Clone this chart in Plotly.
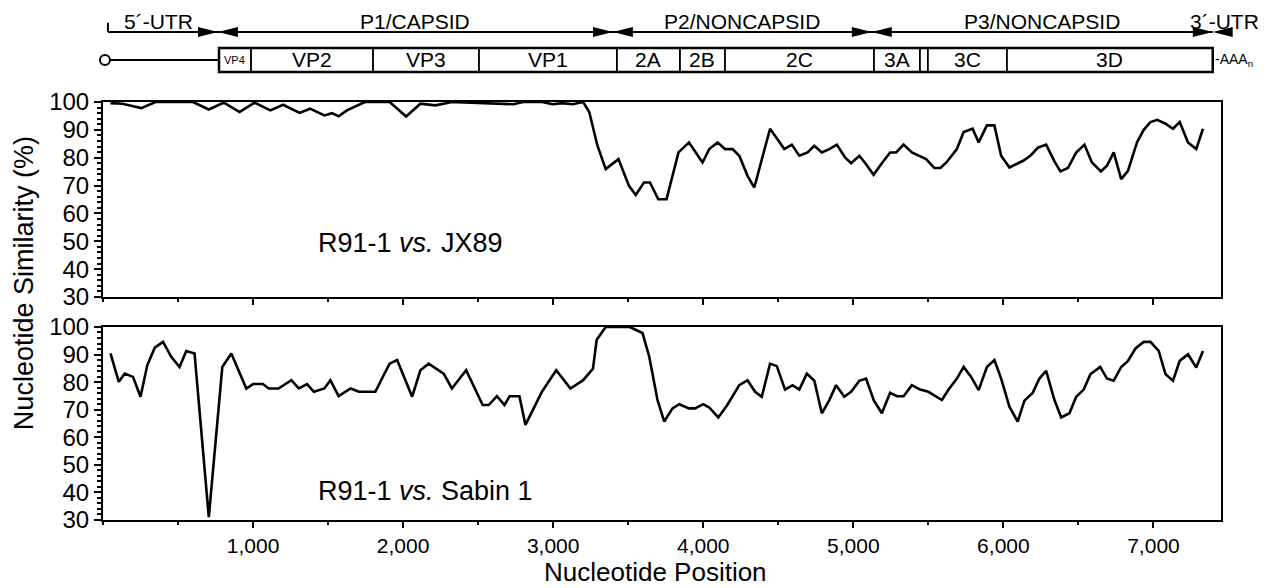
import plotly.graph_objects as go

# sliding-window similarity values
pos_jx89 = [50, 130, 255, 350, 600, 705, 805, 910, 1010, 1115, 1200, 1310, 1380, 1475, 1525,
            1570, 1625, 1745, 1910, 2020, 2115, 2215, 2325, 2540, 2625, 2735, 2800, 2925, 2995,
            3060, 3130, 3200, 3240, 3295, 3350, 3435, 3505, 3550, 3605, 3645, 3700, 3755, 3835,
            3905, 3995, 4040, 4095, 4145, 4195, 4240, 4295, 4340, 4445, 4540, 4590, 4640, 4695,
            4740, 4790, 4840, 4890, 4945, 4985, 5040, 5080, 5135, 5190, 5245, 5285, 5335, 5390,
            5485, 5540, 5580, 5620, 5690, 5735, 5795, 5835, 5890, 5940, 5985, 6040, 6080, 6135,
            6185, 6230, 6285, 6340, 6380, 6430, 6485, 6540, 6590, 6650, 6690, 6735, 6785, 6830,
            6890, 6935, 6980, 7025, 7080, 7130, 7175, 7230, 7285, 7330]
sim_jx89 = [99.6, 99.4, 97.8, 100, 100, 97.3, 99.8, 96.4, 99.8, 97.0, 99.0, 96.1, 97.6, 95.2, 96.0,
            94.9, 97.0, 100, 100, 94.8, 99.4, 98.8, 100, 99.6, 99.2, 99.2, 100, 100, 99.2,
            99.6, 99.2, 100, 96.4, 84.3, 75.9, 79.5, 69.9, 66.6, 71.1, 71.1, 65.1, 65.1, 81.9,
            85.5, 78.3, 83.1, 85.5, 83.1, 83.1, 80.7, 73.5, 69.3, 90.4, 83.1, 84.7, 80.7, 81.9,
            84.3, 81.9, 83.1, 84.7, 80.1, 78.0, 80.7, 78.0, 73.9, 78.0, 81.9, 81.9, 84.7, 81.9,
            79.5, 76.3, 76.3, 78.3, 83.1, 89.2, 90.4, 85.5, 91.6, 91.6, 80.7, 76.5, 77.5, 79.0,
            81.0, 83.6, 84.7, 78.7, 75.1, 76.3, 81.9, 84.7, 78.3, 75.1, 77.1, 81.9, 72.3, 75.3,
            85.5, 90.0, 92.8, 93.6, 92.2, 90.4, 92.8, 85.5, 83.1, 90.4]

pos_sabin = [50, 105, 145, 200, 250, 295, 345, 400, 455, 510, 555, 610, 705, 795, 855, 955, 1000,
             1065, 1105, 1170, 1255, 1305, 1360, 1405, 1475, 1515, 1570, 1650, 1705, 1815, 1870,
             1910, 1960, 2060, 2115, 2170, 2270, 2325, 2420, 2475, 2530, 2570, 2625, 2675, 2710,
             2775, 2815, 2925, 3020, 3115, 3200, 3265, 3290, 3350, 3510, 3595, 3640, 3695, 3740,
             3795, 3840, 3905, 3945, 4000, 4040, 4100, 4160, 4240, 4295, 4345, 4390, 4445, 4490,
             4545, 4595, 4640, 4690, 4740, 4790, 4840, 4885, 4940, 4985, 5040, 5085, 5135, 5190,
             5245, 5290, 5335, 5390, 5445, 5500, 5590, 5635, 5690, 5735, 5785, 5835, 5890, 5940,
             5985, 6040, 6095, 6140, 6195, 6240, 6285, 6340, 6385, 6440, 6485, 6535, 6580, 6645,
             6690, 6735, 6785, 6830, 6880, 6935, 6980, 7035, 7080, 7130, 7175, 7230, 7285, 7330]
sim_sabin = [90.4, 80.1, 83.1, 81.9, 74.7, 86.1, 92.5, 94.6, 89.2, 85.5, 91.3, 90.4, 31.0, 85.5,
             90.4, 77.7, 79.3, 79.3, 77.7, 77.7, 80.7, 77.7, 79.3, 76.5, 77.7, 80.7, 74.9, 77.7,
             76.5, 76.5, 82.5, 86.7, 88.0, 74.7, 84.3, 86.7, 83.1, 77.7, 84.3, 77.7, 71.7, 71.7,
             74.9, 71.7, 74.9, 74.9, 64.5, 76.5, 84.3, 77.7, 80.7, 84.9, 95.4, 100, 100, 97.8,
             89.2, 73.5, 65.7, 70.5, 72.0, 70.5, 70.5, 72.0, 70.8, 67.2, 71.7, 78.9, 80.7, 76.5,
             74.7, 86.7, 85.8, 77.3, 78.9, 77.3, 83.1, 80.5, 68.7, 73.5, 78.9, 74.7, 76.5, 80.5,
             81.3, 73.5, 68.7, 76.1, 74.9, 74.9, 78.9, 77.3, 76.5, 73.5, 77.3, 81.3, 85.5, 81.9,
             77.1, 85.5, 88.0, 81.3, 71.1, 65.7, 73.3, 76.1, 81.3, 84.1, 73.5, 67.2, 68.7, 74.7,
             77.3, 82.9, 85.5, 81.3, 80.5, 85.5, 87.7, 92.2, 94.6, 94.6, 91.3, 82.9, 80.5, 87.7,
             90.1, 85.3, 91.3]

# genome map (nucleotide coordinates)
genes = ["VP4", "VP2", "VP3", "VP1", "2A", "2B", "2C", "3A", "", "3C", "3D"]
gene_start = [773, 986, 1799, 2505, 3424, 3844, 4144, 5137, 5443, 5496, 6023]
gene_end = [986, 1799, 2505, 3424, 3844, 4144, 5137, 5443, 5496, 6023, 7395]
regions = ["P1/CAPSID", "P2/NONCAPSID", "P3/NONCAPSID"]
region_bounds = [766, 3398, 5123, 7395]
utr5_start = 33
utr5_label_x = 373
utr3_label_x = 7475
cap_x = 13
XMAX = 7450

FONT = "Liberation Sans, Arial, sans-serif"
# the page body adds an 8px offset, so the figure is drawn 8px smaller
Y_ARROW = 0.9531
Y_BAR0, Y_BAR1 = 0.875, 0.9219
Y_RNA = 0.8984
Y_LABEL = 0.9746
HEAD = 133      # arrowhead length in nt
HH = 0.0098     # arrowhead half height (paper)


def txt(size):
    return dict(family=FONT, size=size, color="black")


fig = go.Figure()
fig.add_trace(go.Scatter(x=pos_jx89, y=sim_jx89, mode="lines", xaxis="x", yaxis="y",
                         line=dict(color="black", width=2.6), showlegend=False))
fig.add_trace(go.Scatter(x=pos_sabin, y=sim_sabin, mode="lines", xaxis="x2", yaxis="y2",
                         line=dict(color="black", width=2.6), showlegend=False))

shapes = []
# RNA line + 5' circle (paper refs so nothing is clipped at the axis edge)
shapes.append(dict(type="line", xref="paper", yref="paper", x0=cap_x / XMAX,
                   x1=gene_start[0] / XMAX, y0=Y_RNA, y1=Y_RNA, line=dict(color="black", width=2)))
shapes.append(dict(type="circle", xref="paper", yref="paper", xsizemode="pixel", ysizemode="pixel",
                   xanchor=cap_x / XMAX, yanchor=Y_RNA, x0=-5, x1=5, y0=-5, y1=5,
                   fillcolor="white", line=dict(color="black", width=2)))
# polyprotein box
for s, e in zip(gene_start, gene_end):
    shapes.append(dict(type="rect", xref="x", yref="paper", x0=s, x1=e, y0=Y_BAR0, y1=Y_BAR1,
                       line=dict(color="black", width=1.5)))
shapes.append(dict(type="rect", xref="x", yref="paper", x0=gene_start[0], x1=gene_end[-1],
                   y0=Y_BAR0, y1=Y_BAR1, line=dict(color="black", width=2.5)))

# region arrows
shapes.append(dict(type="line", xref="paper", yref="paper", x0=utr5_start / XMAX,
                   x1=region_bounds[-1] / XMAX, y0=Y_ARROW, y1=Y_ARROW,
                   line=dict(color="black", width=2)))
shapes.append(dict(type="line", xref="paper", yref="paper", x0=utr5_start / XMAX,
                   x1=utr5_start / XMAX, y0=Y_ARROW, y1=Y_ARROW + 0.018,
                   line=dict(color="black", width=2)))


def tri(x_tip, direction):
    xb = x_tip - direction * HEAD
    return dict(type="path", xref="paper", yref="paper", fillcolor="black", line=dict(width=0),
                path=f"M {x_tip / XMAX},{Y_ARROW} L {xb / XMAX},{Y_ARROW + HH} "
                     f"L {xb / XMAX},{Y_ARROW - HH} Z")


for b in region_bounds:
    shapes.append(tri(b, 1))
    shapes.append(tri(b, -1))

annotations = []
for g, s, e in zip(genes, gene_start, gene_end):
    if g:
        annotations.append(dict(x=(s + e) / 2, y=(Y_BAR0 + Y_BAR1) / 2, xref="x", yref="paper",
                                xanchor="center", yanchor="middle", text=g, showarrow=False,
                                font=txt(11 if g == "VP4" else 21)))
for r, a, b in zip(regions, region_bounds[:-1], region_bounds[1:]):
    annotations.append(dict(x=(a + b) / 2 / XMAX, y=Y_LABEL, xref="paper", yref="paper", text=r,
                            xanchor="center", yanchor="middle", showarrow=False, font=txt(21)))
annotations.append(dict(x=utr5_label_x / XMAX, y=Y_LABEL, xref="paper", yref="paper",
                        text="5´-UTR", xanchor="center", yanchor="middle", showarrow=False,
                        font=txt(21)))
annotations.append(dict(x=utr3_label_x / XMAX, y=Y_LABEL, xref="paper", yref="paper",
                        text="3´-UTR", xanchor="center", yanchor="middle", showarrow=False,
                        font=txt(21)))
annotations.append(dict(x=gene_end[-1] / XMAX, y=Y_RNA, xref="paper", yref="paper",
                        xanchor="left", yanchor="middle",
                        text="-AAA<sub>n</sub>", showarrow=False, font=txt(14)))

annotations.append(dict(x=2050, y=49.5, xref="x", yref="y", text="R91-1 <i>vs.</i> JX89",
                        xanchor="center", yanchor="middle", showarrow=False, font=txt(27)))
annotations.append(dict(x=2150, y=40.5, xref="x2", yref="y2", text="R91-1 <i>vs.</i> Sabin 1",
                        xanchor="center", yanchor="middle", showarrow=False, font=txt(27)))
annotations.append(dict(x=-0.0705, y=0.463, xref="paper", yref="paper", textangle=-90,
                        xanchor="center", yanchor="middle",
                        text="Nucleotide Similarity (%)", showarrow=False, font=txt(27)))
annotations.append(dict(x=0.494, y=-0.1016, xref="paper", yref="paper",
                        xanchor="center", yanchor="middle",
                        text="Nucleotide Position", showarrow=False, font=txt(26)))

xax = dict(range=[0, XMAX], tickvals=[1000, 2000, 3000, 4000, 5000, 6000, 7000],
           ticks="outside", ticklen=6, tickwidth=1.5, tickcolor="black",
           minor=dict(dtick=500, ticks="outside", ticklen=3, tickcolor="black"),
           showline=True, linecolor="black", linewidth=2, mirror=True,
           showgrid=False, zeroline=False, tickformat=",", automargin=False,
           tickfont=txt(21))
yax = dict(range=[30, 100], dtick=10, ticks="outside", ticklen=7, tickwidth=1.5, tickcolor="black",
           minor=dict(dtick=2, ticks="outside", ticklen=4, tickcolor="black"),
           showline=True, linecolor="black", linewidth=2, mirror=True,
           showgrid=False, zeroline=False, automargin=False,
           tickfont=txt(24))

fig.update_layout(
    width=1262, height=580,
    margin=dict(l=95, r=49, t=0, b=68),
    paper_bgcolor="white", plot_bgcolor="white",
    xaxis=dict(xax, anchor="y", showticklabels=False),
    yaxis=dict(yax, domain=[0.4355, 0.8164], anchor="x"),
    xaxis2=dict(xax, anchor="y2"),
    yaxis2=dict(yax, domain=[0, 0.377], anchor="x2"),
    shapes=shapes,
    annotations=annotations,
)

fig.write_html("out.html")
